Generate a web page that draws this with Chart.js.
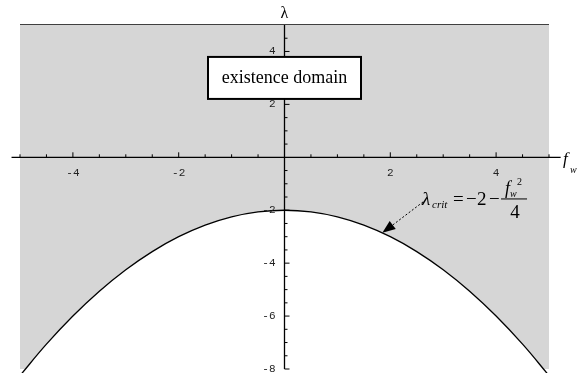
<!DOCTYPE html>
<html>
<head>
<meta charset="utf-8">
<script src="https://cdn.jsdelivr.net/npm/chart.js@4.4.1/dist/chart.umd.min.js"></script>
<style>
  body { margin: 0; background: #fff; }
  canvas { display: block; }
</style>
</head>
<body>
<canvas id="domainChart" width="582" height="378"></canvas>
<script>
// f_w samples and lambda_crit = -2 - f_w^2/4 at each of them
const fwValues = [-5, -4.5, -4, -3.5, -3, -2.5, -2, -1.5, -1, -0.5, 0, 0.5, 1, 1.5, 2, 2.5, 3, 3.5, 4, 4.5, 5];
const lambdaCrit = [-8.25, -7.0625, -6, -5.0625, -4.25, -3.5625, -3, -2.5625, -2.25, -2.0625, -2,
                    -2.0625, -2.25, -2.5625, -3, -3.5625, -4.25, -5.0625, -6, -7.0625, -8.25];

// upper edge of the shaded domain
const topEdgeX = [-5, 5];
const topEdgeY = [5, 5];

const xTickLabels = [-4, -2, 2, 4];
const yTickLabels = [-8, -6, -4, -2, 2, 4];

// where the annotations sit, in (f_w, lambda)
const boxCenter = [0, 3];
const formulaAnchor = [2.6, -1.8];
const arrowTipFw = 1.85;
const arrowTipLambda = -2.8556;

const SERIF = '"Liberation Serif", "Times New Roman", serif';
const MONO = '"Liberation Mono", "Courier New", monospace';

const critPoints = fwValues.map((fw, i) => ({ x: fw, y: lambdaCrit[i] }));
const topPoints = topEdgeX.map((fw, i) => ({ x: fw, y: topEdgeY[i] }));

// axes through the origin, ticks, labels and the two annotations
const centerAxes = {
  id: 'centerAxes',
  afterDatasetsDraw(chart) {
    const { ctx, scales: { x, y } } = chart;
    const x0 = x.getPixelForValue(0);
    const y0 = y.getPixelForValue(0);
    ctx.save();

    ctx.strokeStyle = '#000';
    ctx.lineWidth = 1.3;
    ctx.beginPath();
    ctx.moveTo(x.getPixelForValue(-5.16), y0);
    ctx.lineTo(x.getPixelForValue(5.22), y0);
    ctx.moveTo(x0, y.getPixelForValue(5));
    ctx.lineTo(x0, y.getPixelForValue(-8));
    ctx.stroke();

    // tick marks every 0.5, longer on even numbers
    ctx.lineWidth = 1;
    ctx.beginPath();
    for (let v = -5; v <= 5; v += 0.5) {
      if (v === 0) continue;
      const len = v % 2 === 0 ? 5 : 3;
      const px = x.getPixelForValue(v);
      ctx.moveTo(px, y0);
      ctx.lineTo(px, y0 - len);
    }
    for (let v = -8; v < 5; v += 0.5) {
      if (v === 0) continue;
      const len = v % 2 === 0 ? 5 : 3;
      const py = y.getPixelForValue(v);
      ctx.moveTo(x0, py);
      ctx.lineTo(x0 + len, py);
    }
    ctx.stroke();

    ctx.fillStyle = '#222';
    ctx.font = '11px ' + MONO;
    ctx.textAlign = 'center';
    ctx.textBaseline = 'middle';
    xTickLabels.forEach(v => ctx.fillText(String(v), x.getPixelForValue(v), y0 + 16));
    ctx.textAlign = 'right';
    yTickLabels.forEach(v => ctx.fillText(String(v), x0 - 9, y.getPixelForValue(v)));

    // axis names
    ctx.fillStyle = '#000';
    ctx.textAlign = 'center';
    ctx.textBaseline = 'alphabetic';
    ctx.font = '16px ' + SERIF;
    ctx.fillText('\u03bb', x0, 18);
    ctx.textAlign = 'left';
    ctx.font = 'italic 17px ' + SERIF;
    ctx.fillText('f', 563, y0 + 7);
    ctx.font = 'italic 10px ' + SERIF;
    ctx.fillText('w', 570, y0 + 16);

    // label box
    const bx = x.getPixelForValue(boxCenter[0]);
    const by = y.getPixelForValue(boxCenter[1]);
    const bw = 153, bh = 42;
    ctx.fillStyle = '#fff';
    ctx.fillRect(bx - bw / 2, by - bh / 2, bw, bh);
    ctx.lineWidth = 2;
    ctx.strokeStyle = '#000';
    ctx.strokeRect(bx - bw / 2, by - bh / 2, bw, bh);
    ctx.fillStyle = '#000';
    ctx.font = '18px ' + SERIF;
    ctx.textAlign = 'center';
    ctx.textBaseline = 'middle';
    ctx.fillText('existence domain', bx, by);

    // formula for the critical curve
    const fx = x.getPixelForValue(formulaAnchor[0]);
    const fy = y.getPixelForValue(formulaAnchor[1]);
    ctx.textAlign = 'left';
    ctx.textBaseline = 'alphabetic';
    ctx.font = 'italic 19px ' + SERIF;
    ctx.fillText('\u03bb', fx, fy);
    ctx.font = 'italic 11px ' + SERIF;
    ctx.fillText('crit', fx + 10, fy + 3);
    ctx.font = '19px ' + SERIF;
    ctx.fillText('=', fx + 31, fy);
    ctx.fillText('\u2212', fx + 44, fy);
    ctx.fillText('2', fx + 55, fy);
    ctx.fillText('\u2212', fx + 67, fy);
    ctx.font = 'italic 18px ' + SERIF;
    ctx.fillText('f', fx + 83, fy - 11);
    ctx.font = 'italic 10px ' + SERIF;
    ctx.fillText('w', fx + 88, fy - 8);
    ctx.font = '10px ' + SERIF;
    ctx.fillText('2', fx + 95, fy - 20);
    ctx.lineWidth = 1;
    ctx.beginPath();
    ctx.moveTo(fx + 79, fy - 6);
    ctx.lineTo(fx + 105, fy - 6);
    ctx.stroke();
    ctx.font = '19px ' + SERIF;
    ctx.textAlign = 'center';
    ctx.fillText('4', fx + 93, fy + 13);

    // dashed arrow pointing at the curve
    const tx = x.getPixelForValue(arrowTipFw);
    const ty = y.getPixelForValue(arrowTipLambda);
    const sx = fx + 1, sy = fy - 3;
    const ang = Math.atan2(ty - sy, tx - sx);
    const headLen = 13, headHalf = 5;
    const baseX = tx - headLen * Math.cos(ang);
    const baseY = ty - headLen * Math.sin(ang);
    ctx.setLineDash([2, 2]);
    ctx.beginPath();
    ctx.moveTo(sx, sy);
    ctx.lineTo(baseX, baseY);
    ctx.stroke();
    ctx.setLineDash([]);
    ctx.beginPath();
    ctx.moveTo(tx, ty);
    ctx.lineTo(baseX + headHalf * Math.sin(ang), baseY - headHalf * Math.cos(ang));
    ctx.lineTo(baseX - headHalf * Math.sin(ang), baseY + headHalf * Math.cos(ang));
    ctx.closePath();
    ctx.fill();

    ctx.restore();
  }
};

new Chart(document.getElementById('domainChart'), {
  type: 'line',
  data: {
    datasets: [
      {
        data: critPoints,
        borderColor: '#000',
        borderWidth: 1.3,
        backgroundColor: '#d6d6d6',
        fill: 'end',
        tension: 0.4,
        pointRadius: 0,
        clip: { left: 0, top: 0, right: 0, bottom: 4 }
      },
      {
        data: topPoints,
        borderColor: '#000',
        borderWidth: 1.5,
        fill: false,
        pointRadius: 0,
        clip: false
      }
    ]
  },
  options: {
    responsive: false,
    animation: false,
    devicePixelRatio: 1,
    events: [],
    layout: { padding: { left: 20, right: 33, top: 25, bottom: 9 } },
    plugins: {
      legend: { display: false },
      tooltip: { enabled: false }
    },
    scales: {
      x: { type: 'linear', min: -5, max: 5, display: false },
      y: { type: 'linear', min: -8, max: 5, display: false }
    }
  },
  plugins: [centerAxes]
});
</script>
</body>
</html>
